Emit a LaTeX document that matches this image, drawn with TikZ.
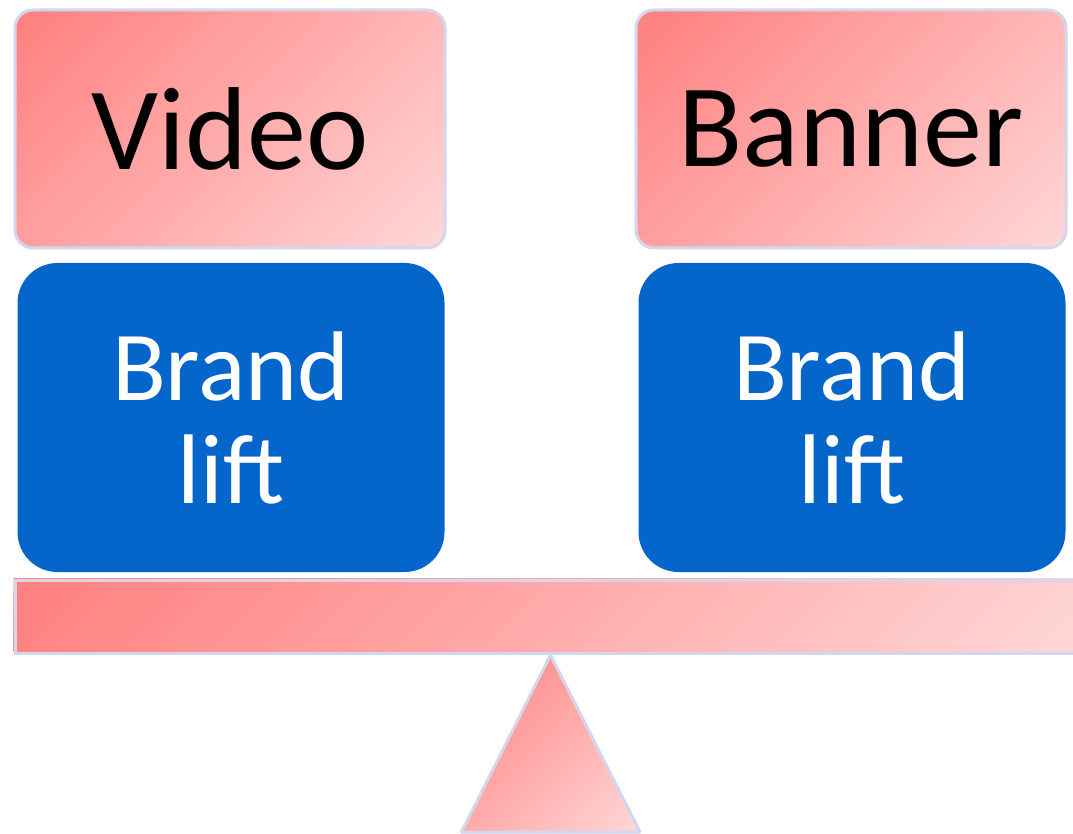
\documentclass[tikz,border=0pt]{standalone}
\usepackage{fontspec}
\setmainfont{Carlito}
\definecolor{pinkA}{HTML}{FF7F7F}
\definecolor{pinkB}{HTML}{FFD6D6}
\definecolor{edge}{HTML}{D3D6EC}
\definecolor{blueBox}{HTML}{0465CA}
% 45-degree gradient: #1,#2 = top-left (y down), #3,#4 = width, height
\newcommand\gradfill[4]{%
  \begin{scope}[shift={(#1,#2)}]
    \pgfmathsetmacro\gL{#3+#4}%
    \foreach \k in {0,...,79}{%
      \pgfmathsetmacro\ga{(\k/80)*\gL}%
      \pgfmathsetmacro\gt{(\k/79)*100}%
      \fill[pinkB!\gt!pinkA] (\ga+\gL,-\gL) -- (2*\gL,-\gL) -- (2*\gL,2*\gL) -- (-\gL,2*\gL) -- (-\gL,\ga+\gL) -- cycle;}
  \end{scope}}
\tikzset{
  pinkbox/.style={draw=edge, line width=3pt, rounded corners=18pt,
    minimum width=430pt, minimum height=238pt, inner sep=0pt,
    font=\fontsize{118}{120}\selectfont, text=black},
  bluebox/.style={fill=blueBox, rounded corners=40pt,
    minimum width=427pt, minimum height=309pt, inner sep=0pt,
    font=\fontsize{99}{103}\selectfont, text=white, align=center},
  edgeline/.style={draw=edge, line width=3pt}
}
\begin{document}
\begin{tikzpicture}[x=1pt,y=-1pt]
\useasboundingbox (0,0) rectangle (1073,834);
\clip (0,0) rectangle (1073,834);
% gradient fills
\begin{scope}
  \clip[rounded corners=18pt] (15,10) rectangle (445,248);
  \gradfill{15}{10}{430}{238}
\end{scope}
\begin{scope}
  \clip[rounded corners=18pt] (636,10) rectangle (1066,248);
  \gradfill{636}{10}{430}{238}
\end{scope}
\begin{scope}
  \clip (13.5,578.5) rectangle (1078.5,651.5);
  \gradfill{13.5}{578.5}{1065}{73}
\end{scope}
\begin{scope}
  \clip (550.5,655) -- (640,832) -- (461.5,832) -- cycle;
  \gradfill{461.5}{655}{178.5}{177}
\end{scope}
% outlines and text
\node[pinkbox] (video) at (230,129) {Video};
\node[pinkbox] (banner) at (851,129) {Banner};
\node[bluebox] (bl1) at (231,417.5) {Brand\\lift};
\node[bluebox] (bl2) at (852,417.5) {Brand\\lift};
\node[edgeline, minimum width=1065pt, minimum height=73pt, inner sep=0pt, anchor=north west] (bar) at (13.5,578.5) {};
\coordinate (apex) at (550.5,655);
\coordinate (bl) at (461.5,832);
\coordinate (br) at (640,832);
\draw[edgeline, line join=round] (apex) -- (br) -- (bl) -- cycle;
\end{tikzpicture}
\end{document}
